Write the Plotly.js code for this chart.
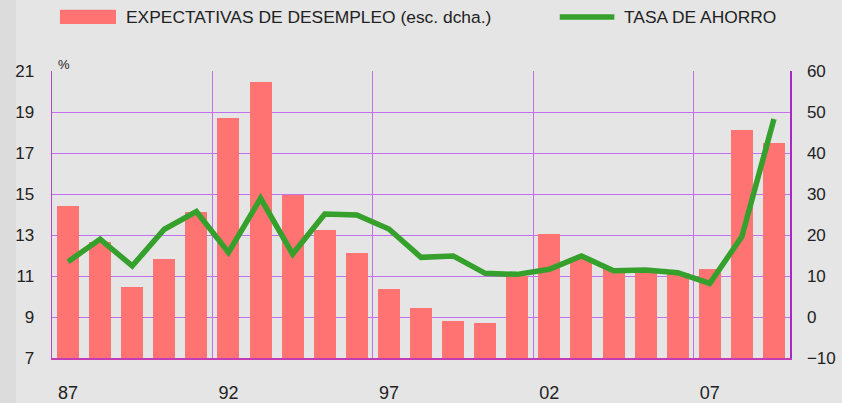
<!DOCTYPE html>
<html>
<head>
<meta charset="utf-8">
<script src="https://cdn.plot.ly/plotly-3.0.1.min.js"></script>
<style>html,body{margin:0;padding:0;background:#e5e5e5;}#chart{width:842px;height:403px;}</style>
</head>
<body>
<div id="chart"></div>
<script>
var years = [1987,1988,1989,1990,1991,1992,1993,1994,1995,1996,1997,1998,1999,2000,2001,2002,2003,2004,2005,2006,2007,2008,2009];
var expectativasDesempleo = [27.1,18.3,7.3,14.1,25.6,48.5,57.3,29.8,21.2,15.6,6.8,2.2,-1.0,-1.5,10.0,20.2,14.2,12.0,11.3,10.8,11.7,45.6,42.4];
var tasaAhorro = [11.70,12.80,11.49,13.28,14.14,12.15,14.79,12.07,14.02,13.98,13.29,11.91,11.98,11.13,11.08,11.33,11.98,11.26,11.29,11.16,10.64,12.92,18.66];
var tickYears = [1987,1992,1997,2002,2007];
var tickLabels = ['87','92','97','02','07'];
var gridYears = [1991.5,1996.5,2001.5,2006.5];
var legendBar = 'EXPECTATIVAS DE DESEMPLEO (esc. dcha.)';
var legendLine = 'TASA DE AHORRO';
var rightAxisMin = -10;

var gridColor = '#c46ef0';
var txt = '#222222';
var font = 'Liberation Sans, Arial, sans-serif';

var traces = [
  {type:'bar', x: years, y: expectativasDesempleo.map(function(v){return v - rightAxisMin;}), base: rightAxisMin,
   customdata: expectativasDesempleo, hovertemplate:'%{x}: %{customdata}<extra></extra>',
   xaxis:'x', yaxis:'y', marker:{color:'#ff7373', line:{width:0}}, width:0.685, name: legendBar},
  {type:'scatter', mode:'lines', x: years, y: tasaAhorro, xaxis:'x', yaxis:'y2',
   line:{color:'#36a02c', width:5.5, shape:'linear'}, name: legendLine}
];

var layout = {
  width:842, height:403,
  paper_bgcolor:'#e5e5e5', plot_bgcolor:'#e5e5e5',
  margin:{l:52, r:52, t:71, b:45, pad:0},
  showlegend:false,
  bargap:0,
  font:{family:font, color:txt, size:17},
  xaxis:{
    range:[1986.5, 2009.5], tickmode:'array', tickvals: tickYears, ticktext: tickLabels,
    showgrid:false, zeroline:false, showline:true, linecolor:'#c43cb4', linewidth:1.5,
    ticks:'outside', ticklen:18, tickcolor:'rgba(0,0,0,0)', tickfont:{size:18, family:font, color:txt},
    minor:{tickmode:'array', tickvals: gridYears, showgrid:true, gridcolor:gridColor, gridwidth:1, ticks:''},
    fixedrange:true
  },
  yaxis:{
    side:'right', range:[-10,60], dtick:10, tick0:-10,
    showgrid:true, gridcolor:gridColor, gridwidth:1, zeroline:false,
    showline:true, linecolor:'#a828c4', linewidth:1.5, mirror:false,
    ticks:'outside', ticklen:12, tickcolor:'rgba(0,0,0,0)', tickfont:{size:17, family:font, color:txt}
  },
  yaxis2:{
    side:'left', overlaying:'y', range:[7,21], dtick:2, tick0:7,
    showgrid:false, zeroline:false, showline:true, linecolor:'#b048c8', linewidth:1.5,
    ticks:'outside', ticklen:13, tickcolor:'rgba(0,0,0,0)', tickfont:{size:17, family:font, color:txt}
  },
  shapes:[
    {type:'rect', xref:'paper', yref:'paper', x0:-0.0705, x1:-0.0488, y0:-0.16, y1:1.25, fillcolor:'#dcdcdc', line:{width:0}, layer:'below'},
    {type:'rect', xref:'paper', yref:'paper', x0:0.0108, x1:0.0867, y0:1.164, y1:1.213, fillcolor:'#ff7373', line:{width:0}},
    {type:'line', xref:'paper', yref:'paper', x0:0.688, x1:0.762, y0:1.188, y1:1.188, line:{color:'#36a02c', width:5.5}}
  ],
  annotations:[
    {xref:'paper', yref:'paper', x:0.0976, y:1.188, xanchor:'left', yanchor:'middle', text: legendBar, showarrow:false, font:{size:17.4, family:font, color:txt}},
    {xref:'paper', yref:'paper', x:0.772, y:1.188, xanchor:'left', yanchor:'middle', text: legendLine, showarrow:false, font:{size:17.4, family:font, color:txt}},
    {xref:'paper', yref:'paper', x:0.0156, y:1.024, xanchor:'center', yanchor:'middle', text:'%', showarrow:false, font:{size:13, family:font, color:txt}}
  ]
};

Plotly.newPlot('chart', traces, layout, {staticPlot:true, displayModeBar:false});
</script>
</body>
</html>
